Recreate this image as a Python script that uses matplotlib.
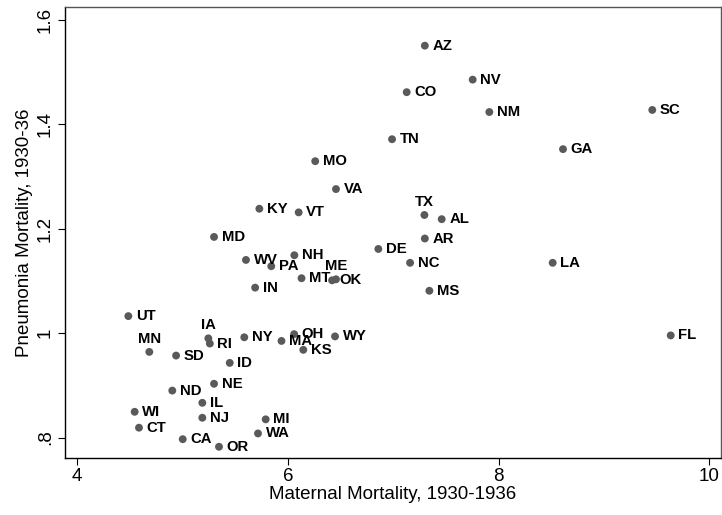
import matplotlib
matplotlib.use("Agg")
import matplotlib.pyplot as plt

states = ["AZ","NV","CO","NM","SC","TN","GA","MO","VA","KY","VT","TX","AL","MD","AR","DE",
          "WV","NH","PA","NC","LA","ME","OK","MT","IN","MS","UT","FL","WY","OH","MA","KS",
          "NY","IA","RI","MN","SD","ID","NE","ND","IL","WI","NJ","MI","CT","WA","CA","OR"]
maternal = [7.30,7.754,7.128,7.912,9.458,6.989,8.611,6.26,6.457,5.73,6.103,7.296,7.46,5.30,7.30,6.859,
            5.603,6.062,5.843,7.16,8.513,6.457,6.42,6.13,5.69,7.343,4.487,9.633,6.448,6.06,5.94,6.147,
            5.587,5.246,5.26,4.686,4.94,5.449,5.30,4.904,5.189,4.547,5.189,5.79,4.588,5.717,5.003,5.347]
pneumonia = [1.550,1.485,1.461,1.423,1.427,1.371,1.352,1.329,1.2756,1.238,1.231,1.226,1.218,1.184,1.181,1.161,
             1.140,1.149,1.128,1.1345,1.1345,1.103,1.101,1.105,1.087,1.081,1.0325,0.9956,0.9937,0.998,0.985,0.968,
             0.992,0.990,0.980,0.964,0.957,0.943,0.903,0.890,0.8666,0.8494,0.838,0.835,0.819,0.808,0.797,0.7825]
above_labels = ["TX","IA","MN","ME"]

x_ticks = [4, 6, 8, 10]
x_ticklabels = ["4", "6", "8", "10"]
y_ticks = [0.8, 1.0, 1.2, 1.4, 1.6]
y_ticklabels = [".8", "1", "1.2", "1.4", "1.6"]

plt.rcParams['font.family'] = ['Liberation Sans', 'DejaVu Sans']

fig = plt.figure(figsize=(7.22, 5.15), dpi=100)
ax = fig.add_axes([65/722, 1-458/515, (721-65)/722, (458-7)/515])

ax.scatter(maternal, pneumonia, s=32, color='#5a5a5a', edgecolors='none', zorder=3)

for s, xv, yv in zip(states, maternal, pneumonia):
    if s in above_labels:
        ax.annotate(s, (xv, yv), xytext=(0, 4.5), textcoords='offset points',
                    ha='center', va='bottom', fontsize=10.7, fontweight='bold', color='black')
    else:
        ax.annotate(s, (xv, yv), xytext=(5.5, 0), textcoords='offset points',
                    ha='left', va='center', fontsize=10.7, fontweight='bold', color='black')

ax.set_xlim(3.886, 10.11)
ax.set_ylim(0.761, 1.624)
ax.set_xticks(x_ticks)
ax.set_xticklabels(x_ticklabels)
ax.set_yticks(y_ticks)
ax.set_yticklabels(y_ticklabels, rotation=90, va='center')
ax.tick_params(axis='both', direction='out', length=5, width=0.8, labelsize=13.5, colors='black', pad=2)
ax.tick_params(axis='y', pad=3)

ax.set_xlabel("Maternal Mortality, 1930-1936", fontsize=13.5, labelpad=1)
ax.set_ylabel("Pneumonia Mortality, 1930-36", fontsize=13.5, labelpad=3)

for side in ['left', 'bottom']:
    ax.spines[side].set_color('black')
    ax.spines[side].set_linewidth(1.0)
for side in ['top', 'right']:
    ax.spines[side].set_color('#555555')
    ax.spines[side].set_linewidth(1.0)

fig.savefig("out.png", dpi=100)
